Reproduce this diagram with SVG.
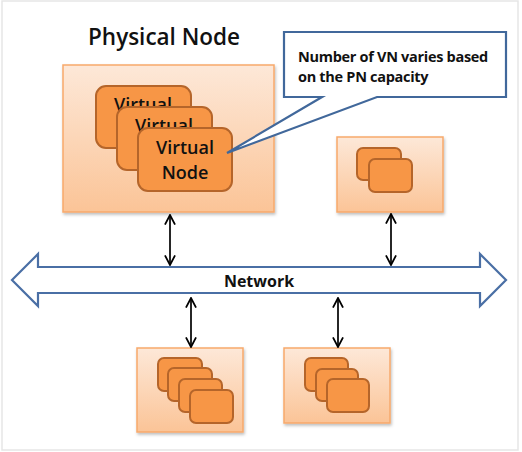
<svg xmlns="http://www.w3.org/2000/svg" width="522" height="452" viewBox="0 0 522 452">
<defs>
<linearGradient id="pn" x1="0" y1="0" x2="0" y2="1">
<stop offset="0" stop-color="#fde8d8"/>
<stop offset="1" stop-color="#fbc497"/>
</linearGradient>
<filter id="sh" x="-10%" y="-10%" width="130%" height="130%">
<feDropShadow dx="1" dy="2" stdDeviation="1.5" flood-color="#000" flood-opacity="0.25"/>
</filter>
<marker id="ah" viewBox="0 0 10 10" refX="9" refY="5" markerWidth="12" markerHeight="12" markerUnits="userSpaceOnUse" orient="auto-start-reverse">
<path d="M1,0.8 L9,5 L1,9.2" fill="none" stroke="#000" stroke-width="1.5"/>
</marker>
<style>
.pn{fill:url(#pn);stroke:#f7a96b;stroke-width:1.5;filter:url(#sh)}
.vn{fill:#f79646;stroke:#b5652a;stroke-width:2}
.lbl{font-family:"Open Sans","Liberation Sans",sans-serif;fill:#111}
.vt{font-size:18px;font-weight:600;text-anchor:middle}
.con{stroke:#000;stroke-width:1.7;fill:none;marker-start:url(#ah);marker-end:url(#ah)}
</style>
</defs>
<rect x="0" y="0" width="522" height="452" fill="#fff"/>
<rect x="2" y="1" width="516" height="449" fill="none" stroke="#e6e6e6" stroke-width="1.5"/>

<text class="lbl" x="88" y="45" font-size="22.5" font-weight="600">Physical Node</text>

<g id="pn-main">
<rect class="pn" x="63" y="65" width="211" height="147"/>
<g id="vn1"><rect class="vn" x="96" y="86" width="95" height="62" rx="10"/>
<text class="lbl vt" x="143" y="111">Virtual</text></g>
<g id="vn2"><rect class="vn" x="117" y="107" width="95" height="63" rx="10"/>
<text class="lbl vt" x="164" y="132">Virtual</text></g>
<g id="vn3"><rect class="vn" x="138" y="128" width="94" height="63" rx="10"/>
<text class="lbl vt" x="185" y="154">Virtual</text>
<text class="lbl vt" x="185" y="179">Node</text></g>
</g>

<g id="callout">
<path d="M284,32 H506 V97 H377 L227,153 L322,97 H284 Z" fill="#fff" stroke="#41689b" stroke-width="2.2" stroke-linejoin="miter"/>
<text class="lbl" x="298" y="62" font-size="14.5" font-weight="700" letter-spacing="-0.3">Number of VN varies based</text>
<text class="lbl" x="298" y="82" font-size="14.5" font-weight="700" letter-spacing="-0.3">on the PN capacity</text>
</g>

<g id="pn-topright">
<rect class="pn" x="337" y="137" width="106" height="75"/>
<rect class="vn" x="357" y="148" width="44" height="32" rx="6"/>
<rect class="vn" x="369" y="159" width="43" height="33" rx="6"/>
</g>

<g id="pn-bottomleft">
<rect class="pn" x="137" y="348" width="106" height="84"/>
<rect class="vn" x="158" y="358" width="44" height="33" rx="6"/>
<rect class="vn" x="168" y="368" width="44" height="33" rx="6"/>
<rect class="vn" x="179" y="379" width="43" height="33" rx="6"/>
<rect class="vn" x="190" y="390" width="43" height="33" rx="6"/>
</g>

<g id="pn-bottomright">
<rect class="pn" x="284" y="348" width="106" height="75"/>
<rect class="vn" x="305" y="358" width="43" height="33" rx="6"/>
<rect class="vn" x="316" y="369" width="42" height="32" rx="6"/>
<rect class="vn" x="327" y="379" width="42" height="33" rx="6"/>
</g>

<g id="network">
<path d="M12,280 L38,254 V267 H480 V254 L506,280 L480,306 V293 H38 V306 Z" fill="#fff" stroke="#4a6fa5" stroke-width="2.2" stroke-linejoin="miter"/>
<text class="lbl" x="259" y="287" font-size="16" font-weight="700" text-anchor="middle">Network</text>
</g>

<g id="connectors">
<line class="con" x1="170" y1="215" x2="170" y2="265"/>
<line class="con" x1="391" y1="214" x2="391" y2="265"/>
<line class="con" x1="191" y1="298" x2="191" y2="347"/>
<line class="con" x1="338" y1="298" x2="338" y2="347"/>
</g>
</svg>
